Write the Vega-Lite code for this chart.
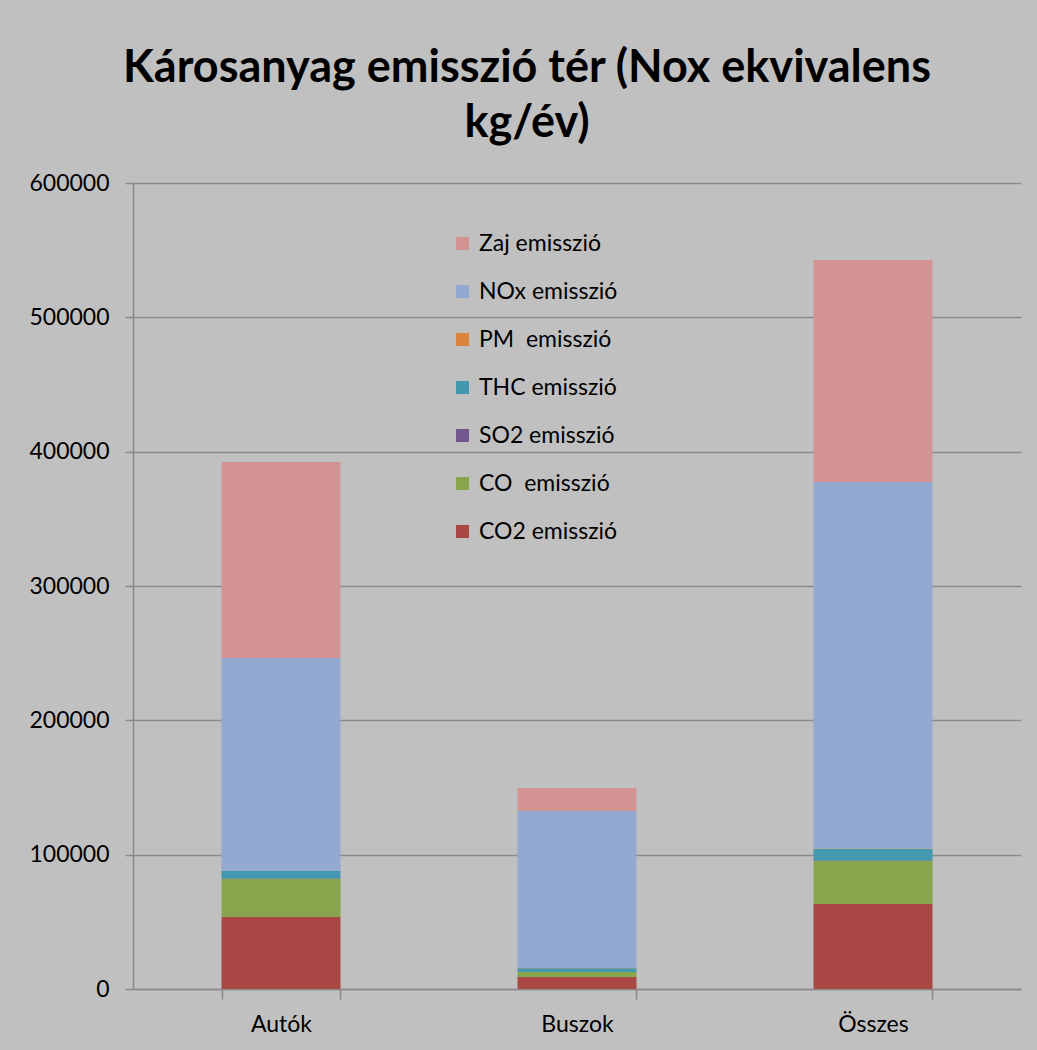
{
  "$schema": "https://vega.github.io/schema/vega-lite/v6.json",
  "width": 888,
  "height": 806,
  "autosize": {"type": "none"},
  "padding": {"left": 133, "top": 183, "right": 16, "bottom": 61},
  "background": "#c0c0c0",
  "title": {
    "text": ["Károsanyag emisszió tér (Nox ekvivalens", "kg/év)"],
    "font": "Lato",
    "fontSize": 45,
    "fontWeight": "bold",
    "color": "#000000",
    "anchor": "middle",
    "frame": "group",
    "dx": -50,
    "lineHeight": 55,
    "offset": 26
  },
  "data": {
    "values": [
      {"group": "Autók", "pollutant": "CO2 emisszió", "layer": 1, "value": 53600},
      {"group": "Autók", "pollutant": "CO\u00a0 emisszió", "layer": 2, "value": 28300},
      {"group": "Autók", "pollutant": "SO2 emisszió", "layer": 3, "value": 300},
      {"group": "Autók", "pollutant": "THC emisszió", "layer": 4, "value": 5600},
      {"group": "Autók", "pollutant": "PM\u00a0 emisszió", "layer": 5, "value": 200},
      {"group": "Autók", "pollutant": "NOx emisszió", "layer": 6, "value": 158400},
      {"group": "Autók", "pollutant": "Zaj emisszió", "layer": 7, "value": 145900},
      {"group": "Buszok", "pollutant": "CO2 emisszió", "layer": 1, "value": 8900},
      {"group": "Buszok", "pollutant": "CO\u00a0 emisszió", "layer": 2, "value": 3700},
      {"group": "Buszok", "pollutant": "SO2 emisszió", "layer": 3, "value": 100},
      {"group": "Buszok", "pollutant": "THC emisszió", "layer": 4, "value": 2800},
      {"group": "Buszok", "pollutant": "PM\u00a0 emisszió", "layer": 5, "value": 100},
      {"group": "Buszok", "pollutant": "NOx emisszió", "layer": 6, "value": 116900},
      {"group": "Buszok", "pollutant": "Zaj emisszió", "layer": 7, "value": 17100},
      {"group": "Összes", "pollutant": "CO2 emisszió", "layer": 1, "value": 63300},
      {"group": "Összes", "pollutant": "CO\u00a0 emisszió", "layer": 2, "value": 32000},
      {"group": "Összes", "pollutant": "SO2 emisszió", "layer": 3, "value": 400},
      {"group": "Összes", "pollutant": "THC emisszió", "layer": 4, "value": 8500},
      {"group": "Összes", "pollutant": "PM\u00a0 emisszió", "layer": 5, "value": 300},
      {"group": "Összes", "pollutant": "NOx emisszió", "layer": 6, "value": 272900},
      {"group": "Összes", "pollutant": "Zaj emisszió", "layer": 7, "value": 165300}
    ]
  },
  "mark": {"type": "bar"},
  "encoding": {
    "x": {
      "field": "group",
      "type": "nominal",
      "sort": ["Autók", "Buszok", "Összes"],
      "scale": {"paddingInner": 0.598, "paddingOuter": 0.299},
      "axis": {
        "title": null,
        "labelAngle": 0,
        "labelFont": "Lato",
        "labelFontSize": 23,
        "labelColor": "#000000",
        "labelPadding": 14,
        "tickBand": "extent",
        "tickSize": 10,
        "tickColor": "#8a8a8a",
        "tickWidth": 1.5,
        "domainColor": "#8a8a8a",
        "domainWidth": 1.5
      }
    },
    "y": {
      "field": "value",
      "type": "quantitative",
      "stack": "zero",
      "scale": {"domain": [0, 600000], "nice": false},
      "axis": {
        "title": null,
        "values": [0, 100000, 200000, 300000, 400000, 500000, 600000],
        "format": "d",
        "labelFont": "Lato",
        "labelFontSize": 23,
        "labelColor": "#000000",
        "labelPadding": 16,
        "tickSize": 8,
        "tickColor": "#8a8a8a",
        "tickWidth": 1.5,
        "domainColor": "#8a8a8a",
        "domainWidth": 1.5,
        "grid": true,
        "gridColor": "#8a8a8a",
        "gridWidth": 1.5
      }
    },
    "order": {"field": "layer", "type": "quantitative", "sort": "ascending"},
    "color": {
      "field": "pollutant",
      "type": "nominal",
      "scale": {
        "domain": ["Zaj emisszió", "NOx emisszió", "PM\u00a0 emisszió", "THC emisszió", "SO2 emisszió", "CO\u00a0 emisszió", "CO2 emisszió"],
        "range": ["#d39392", "#94a9d1", "#db843d", "#4198af", "#72578e", "#88a44c", "#a84744"]
      },
      "legend": {
        "title": null,
        "orient": "none",
        "legendX": 318,
        "legendY": 49,
        "symbolType": "square",
        "symbolSize": 170,
        "symbolStrokeWidth": 0,
        "labelFont": "Lato",
        "labelFontSize": 23,
        "labelColor": "#000000",
        "labelOffset": 5,
        "rowPadding": 24,
        "labelLimit": 300
      }
    }
  },
  "config": {
    "view": {"stroke": null}
  }
}
